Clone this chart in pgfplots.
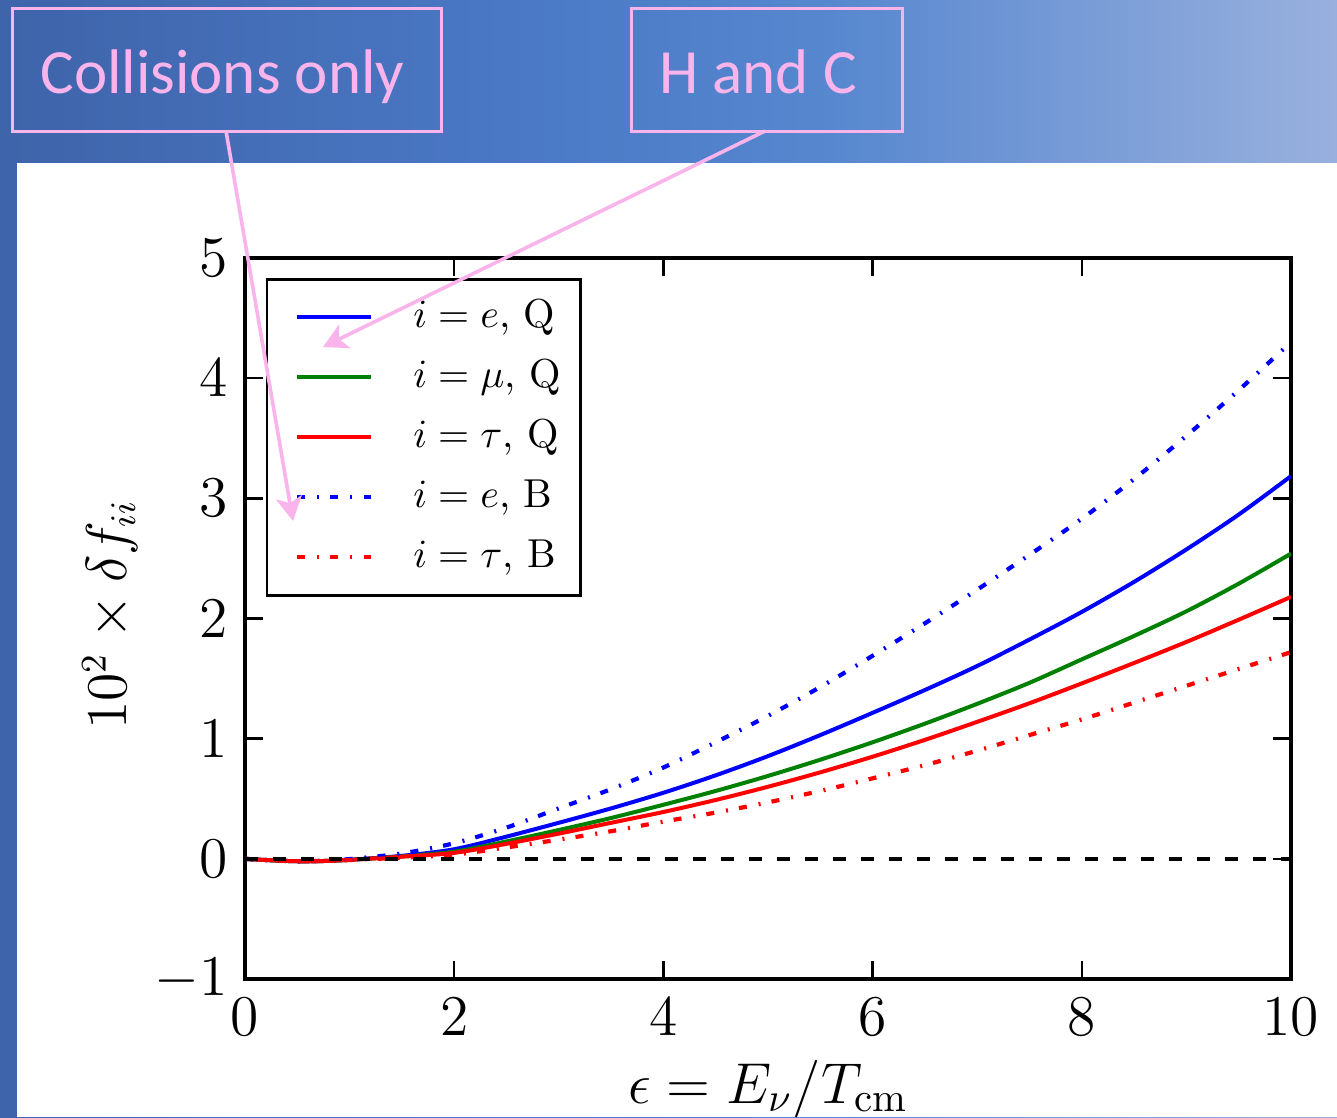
\documentclass[border=0pt]{standalone}
\usepackage{fontspec}
\newfontfamily\callout{Carlito}
\usepackage{pgfplots}
\pgfplotsset{compat=1.18}
\usetikzlibrary{arrows.meta}
\definecolor{pinkc}{RGB}{250,180,236}
\definecolor{mgreen}{RGB}{0,128,0}
\pgfdeclarehorizontalshading{slidebg}{100bp}{rgb(0bp)=(0.243,0.392,0.667); rgb(25bp)=(0.243,0.392,0.667); rgb(45bp)=(0.294,0.475,0.776); rgb(56bp)=(0.34,0.53,0.81); rgb(75bp)=(0.60,0.69,0.87); rgb(100bp)=(0.60,0.69,0.87)}
\begin{document}
\begin{tikzpicture}
\useasboundingbox (0,0) rectangle (334.25pt,279.25pt);
\begin{scope}[shift={(0pt,279.25pt)}, x=0.25pt, y=-0.25pt]
\shade[shading=slidebg] (0,0) rectangle (1337,1117);
\fill[white] (17,163) rectangle (1337,1117);
\end{scope}
\begin{axis}[
  at={(61.25pt,34.5pt)}, anchor=south west,
  width=261.5pt, height=180.25pt, scale only axis,
  xmin=0, xmax=10, ymin=-1, ymax=5,
  xtick={0,2,...,10}, ytick={-1,0,...,5},
  tick align=inside, xtick pos=both, ytick pos=both,
  major tick length=4.5pt,
  axis line style={line width=0.8pt},
  major tick style={line width=0.6pt, black},
  tick label style={font=\fontsize{13.5}{16}\selectfont},
  xticklabel style={yshift=-1.2pt},
  yticklabel style={xshift=-0.8pt},
  xlabel={$\epsilon = E_\nu/T_{\rm cm}$},
  ylabel={$10^2\times\delta f_{ii}$},
  xlabel style={at={(axis description cs:0.5,-0.172)}, anchor=base, font=\fontsize{14.5}{17}\selectfont},
  ylabel style={at={(axis description cs:-0.129,0.505)}, anchor=center, font=\fontsize{13.5}{16}\selectfont},
  legend cell align=left,
  legend image code/.code={\path (0pt,0pt); \draw[#1] (4pt,0pt) -- (22.5pt,0pt);},
  legend style={at={(0.02,0.972)}, anchor=north west, draw=black, line width=0.6pt,
    inner xsep=3pt, inner ysep=2pt, font=\fontsize{10.1}{13}\selectfont, row sep=0pt,
    nodes={inner sep=2pt, text height=8pt, text depth=3pt},
    /tikz/every odd column/.append style={column sep=8pt}},
]
\addplot[blue, line width=1pt, smooth] coordinates {
(0,0) (0.25,-0.012) (0.5,-0.02) (0.75,-0.018) (1,-0.008) (1.5,0.025) (2,0.08) (2.5,0.185) (3,0.30) (3.5,0.42) (4,0.55) (4.5,0.695) (5,0.855) (5.5,1.03) (6,1.215) (6.5,1.405) (7,1.605) (7.5,1.825) (8,2.055) (8.5,2.305) (9,2.575) (9.5,2.865) (10,3.185)};
\addlegendentry{$i = e$, Q}
\addplot[mgreen, line width=1pt, smooth] coordinates {
(0,0) (0.25,-0.012) (0.5,-0.02) (0.75,-0.018) (1,-0.008) (1.5,0.02) (2,0.06) (2.5,0.145) (3,0.24) (3.5,0.34) (4,0.45) (4.5,0.565) (5,0.69) (5.5,0.825) (6,0.97) (6.5,1.125) (7,1.29) (7.5,1.465) (8,1.66) (8.5,1.855) (9,2.06) (9.5,2.29) (10,2.54)};
\addlegendentry{$i = \mu$, Q}
\addplot[red, line width=1pt, smooth] coordinates {
(0,0) (0.25,-0.012) (0.5,-0.02) (0.75,-0.018) (1,-0.008) (1.5,0.018) (2,0.05) (2.5,0.125) (3,0.21) (3.5,0.30) (4,0.39) (4.5,0.49) (5,0.60) (5.5,0.72) (6,0.85) (6.5,0.99) (7,1.14) (7.5,1.295) (8,1.46) (8.5,1.63) (9,1.805) (9.5,1.99) (10,2.18)};
\addlegendentry{$i = \tau$, Q}
\addplot[blue, line width=1.05pt, smooth, dash pattern=on 2pt off 3pt on 0.5pt off 2.8pt] coordinates {
(0,0) (0.25,-0.012) (0.5,-0.02) (0.75,-0.015) (1,-0.002) (1.5,0.045) (2,0.13) (2.5,0.26) (3,0.42) (3.5,0.58) (4,0.76) (4.5,0.97) (5,1.19) (5.5,1.43) (6,1.69) (6.5,1.96) (7,2.24) (7.5,2.53) (8,2.83) (8.5,3.16) (9,3.52) (9.5,3.90) (10,4.30)};
\addlegendentry{$i = e$, B}
\addplot[red, line width=1.05pt, smooth, dash pattern=on 2pt off 3pt on 0.5pt off 2.8pt] coordinates {
(0,0) (0.25,-0.012) (0.5,-0.02) (0.75,-0.018) (1,-0.01) (1.5,0.01) (2,0.035) (2.5,0.095) (3,0.16) (3.5,0.23) (4,0.31) (4.5,0.385) (5,0.47) (5.5,0.565) (6,0.67) (6.5,0.78) (7,0.90) (7.5,1.03) (8,1.16) (8.5,1.30) (9,1.44) (9.5,1.58) (10,1.72)};
\addlegendentry{$i = \tau$, B}
\addplot[black, line width=1pt, dash pattern=on 3.3pt off 3.7pt, forget plot] coordinates {(0,0) (10,0)};
\end{axis}
\begin{scope}[shift={(0pt,279.25pt)}, x=0.25pt, y=-0.25pt]
\draw[pinkc, line width=0.75pt] (12,9) rectangle (441,131);
\draw[pinkc, line width=0.75pt] (631,9) rectangle (902,131);
\node[anchor=base, inner sep=0pt, text=pinkc, font=\callout\fontsize{15.75}{18}\selectfont] at (222.5,94) {Collisions only};
\node[anchor=base, inner sep=0pt, text=pinkc, font=\callout\fontsize{15.75}{18}\selectfont] at (758,94) {H and C};
\draw[pinkc, line width=0.9pt, -{Stealth[length=6pt, width=6.5pt, inset=1.5pt]}] (226,131) -- (293,521);
\draw[pinkc, line width=0.9pt, -{Stealth[length=6pt, width=6.5pt, inset=1.5pt]}] (765,131) -- (323,347);
\end{scope}
\end{tikzpicture}
\end{document}
